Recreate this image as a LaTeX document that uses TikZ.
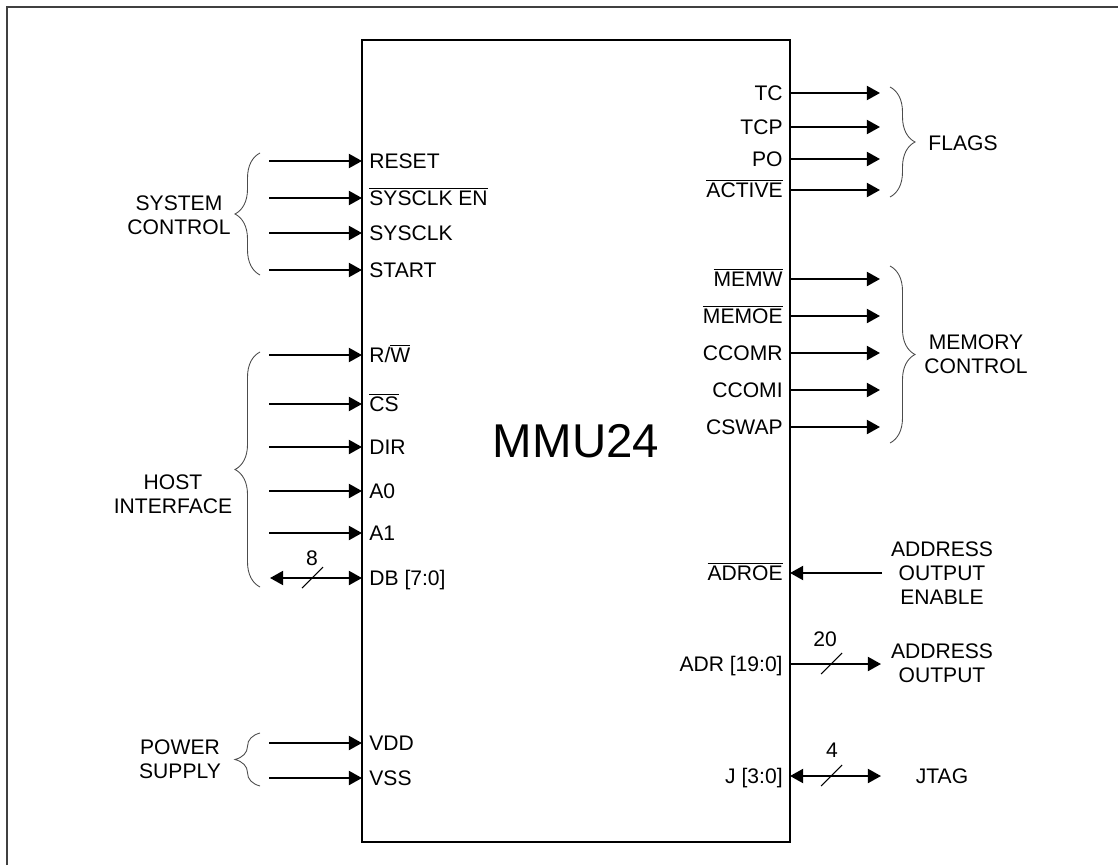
\documentclass[tikz,border=0pt]{standalone}
\usepackage{fontspec}
\setmainfont{Liberation Sans}
\usetikzlibrary{arrows.meta,decorations.pathreplacing}
\newcommand{\ovl}[1]{$\overline{\mbox{#1}}$}

\begin{document}
\begin{tikzpicture}[x=0.02cm,y=-0.02cm,
    font=\fontsize{12}{13.6}\selectfont,
    chip/.style={draw,line width=1.1pt,minimum width=8.56cm,minimum height=16.04cm},
    pinl/.style={anchor=west,inner xsep=4pt,inner ysep=0pt,text height=8.6pt,text depth=0pt},
    pinr/.style={anchor=east,inner xsep=4pt,inner ysep=0pt,text height=8.6pt,text depth=0pt},
    sig/.style={line width=1.2pt,-{Triangle[length=7.5pt,width=8pt]}},
    bidir/.style={line width=1.2pt,{Triangle[length=7.5pt,width=8pt]}-{Triangle[length=7.5pt,width=8pt]}},
    grp/.style={align=center},
    bus/.style={line width=0.6pt},
    grpbrace/.style={draw=black!70,line width=0.5pt,decorate,decoration={brace,amplitude=0.5cm}}]
			\useasboundingbox (0,0) rectangle (1118,865);
			\draw[black!75,line width=1.1pt] (7,865) -- (7,7) -- (1118,7);
			\node[chip] (mmu) at (576,441) {\fontsize{27}{30}\selectfont MMU24};
			% inputs on the left
			\node[pinl] (reset) at (362,161) {RESET};
			\node[pinl] (sysclken) at (362,198) {\ovl{SYSCLK EN}};
			\node[pinl] (sysclk) at (362,233) {SYSCLK};
			\node[pinl] (start) at (362,270) {START};
			\node[pinl] (rw) at (362,355) {R/\ovl{W}};
			\node[pinl] (cs) at (362,404) {\ovl{CS}};
			\node[pinl] (dir) at (362,447) {DIR};
			\node[pinl] (a0) at (362,491) {A0};
			\node[pinl] (a1) at (362,533) {A1};
			\node[pinl] (db) at (362,578) {DB [7:0]};
			\node[pinl] (vdd) at (362,743) {VDD};
			\node[pinl] (vss) at (362,778) {VSS};
			\coordinate (reset-src) at (269,161);
			\coordinate (sysclken-src) at (269,198);
			\coordinate (sysclk-src) at (269,233);
			\coordinate (start-src) at (269,270);
			\coordinate (rw-src) at (269,355);
			\coordinate (cs-src) at (269,404);
			\coordinate (dir-src) at (269,447);
			\coordinate (a0-src) at (269,491);
			\coordinate (a1-src) at (269,533);
			\coordinate (db-src) at (270,578);
			\coordinate (vdd-src) at (269,743);
			\coordinate (vss-src) at (269,778);
			\draw[sig] (reset-src) -- (reset.west);
			\draw[sig] (sysclken-src) -- (sysclken.west);
			\draw[sig] (sysclk-src) -- (sysclk.west);
			\draw[sig] (start-src) -- (start.west);
			\draw[sig] (rw-src) -- (rw.west);
			\draw[sig] (cs-src) -- (cs.west);
			\draw[sig] (dir-src) -- (dir.west);
			\draw[sig] (a0-src) -- (a0.west);
			\draw[sig] (a1-src) -- (a1.west);
			\draw[bidir] (db-src) -- (db.west);
			\draw[sig] (vdd-src) -- (vdd.west);
			\draw[sig] (vss-src) -- (vss.west);
			\coordinate (db-s) at (312,578);
			\draw[bus] (db-s) ++(-10,10) -- ++(21,-21);
			\node (db-w) at (312,558) {8};
			% outputs on the right
			\node[pinr] (tc) at (790,93) {TC};
			\node[pinr] (tcp) at (790,127) {TCP};
			\node[pinr] (po) at (790,159) {PO};
			\node[pinr] (active) at (790,190) {\ovl{ACTIVE}};
			\node[pinr] (memw) at (790,279) {\ovl{MEMW}};
			\node[pinr] (memoe) at (790,316) {\ovl{MEMOE}};
			\node[pinr] (ccomr) at (790,353) {CCOMR};
			\node[pinr] (ccomi) at (790,390) {CCOMI};
			\node[pinr] (cswap) at (790,427) {CSWAP};
			\node[pinr] (adroe) at (790,573) {\ovl{ADROE}};
			\node[pinr] (adr) at (790,664) {ADR [19:0]};
			\node[pinr] (j) at (790,776) {J [3:0]};
			\coordinate (tc-dst) at (880,93);
			\coordinate (tcp-dst) at (880,127);
			\coordinate (po-dst) at (880,159);
			\coordinate (active-dst) at (880,190);
			\coordinate (memw-dst) at (880,279);
			\coordinate (memoe-dst) at (880,316);
			\coordinate (ccomr-dst) at (880,353);
			\coordinate (ccomi-dst) at (880,390);
			\coordinate (cswap-dst) at (880,427);
			\coordinate (adroe-src) at (882,573);
			\coordinate (adr-dst) at (881,664);
			\coordinate (j-dst) at (881,776);
			\draw[sig] (tc.east) -- (tc-dst);
			\draw[sig] (tcp.east) -- (tcp-dst);
			\draw[sig] (po.east) -- (po-dst);
			\draw[sig] (active.east) -- (active-dst);
			\draw[sig] (memw.east) -- (memw-dst);
			\draw[sig] (memoe.east) -- (memoe-dst);
			\draw[sig] (ccomr.east) -- (ccomr-dst);
			\draw[sig] (ccomi.east) -- (ccomi-dst);
			\draw[sig] (cswap.east) -- (cswap-dst);
			\draw[sig] (adroe-src) -- (adroe.east);
			\draw[sig] (adr.east) -- (adr-dst);
			\draw[bidir] (j.east) -- (j-dst);
			\coordinate (adr-s) at (831,664);
			\coordinate (j-s) at (831,776);
			\draw[bus] (adr-s) ++(-10,10) -- ++(21,-21);
			\draw[bus] (j-s) ++(-10,10) -- ++(21,-21);
			\node (adr-w) at (825,639) {20};
			\node (j-w) at (832,750) {4};
			% group braces and names
			\draw[grpbrace] (260,275) -- (260,153);
			\draw[grpbrace] (260,587) -- (260,352);
			\draw[grpbrace] (260,786) -- (260,733);
			\draw[grpbrace] (890,87) -- (890,197);
			\draw[grpbrace] (890,266) -- (890,443);
			\node[grp] (sysctl) at (179,215) {SYSTEM\\CONTROL};
			\node[grp] (host) at (173,494) {HOST\\INTERFACE};
			\node[grp] (power) at (180,759) {POWER\\SUPPLY};
			\node[grp] (flags) at (963,143) {FLAGS};
			\node[grp] (memctl) at (976,354) {MEMORY\\CONTROL};
			\node[grp] (adroe-lbl) at (942,573) {ADDRESS\\OUTPUT\\ENABLE};
			\node[grp] (adr-lbl) at (942,663) {ADDRESS\\OUTPUT};
			\node[grp] (jtag) at (942,776) {JTAG};
		\end{tikzpicture}
\end{document}
